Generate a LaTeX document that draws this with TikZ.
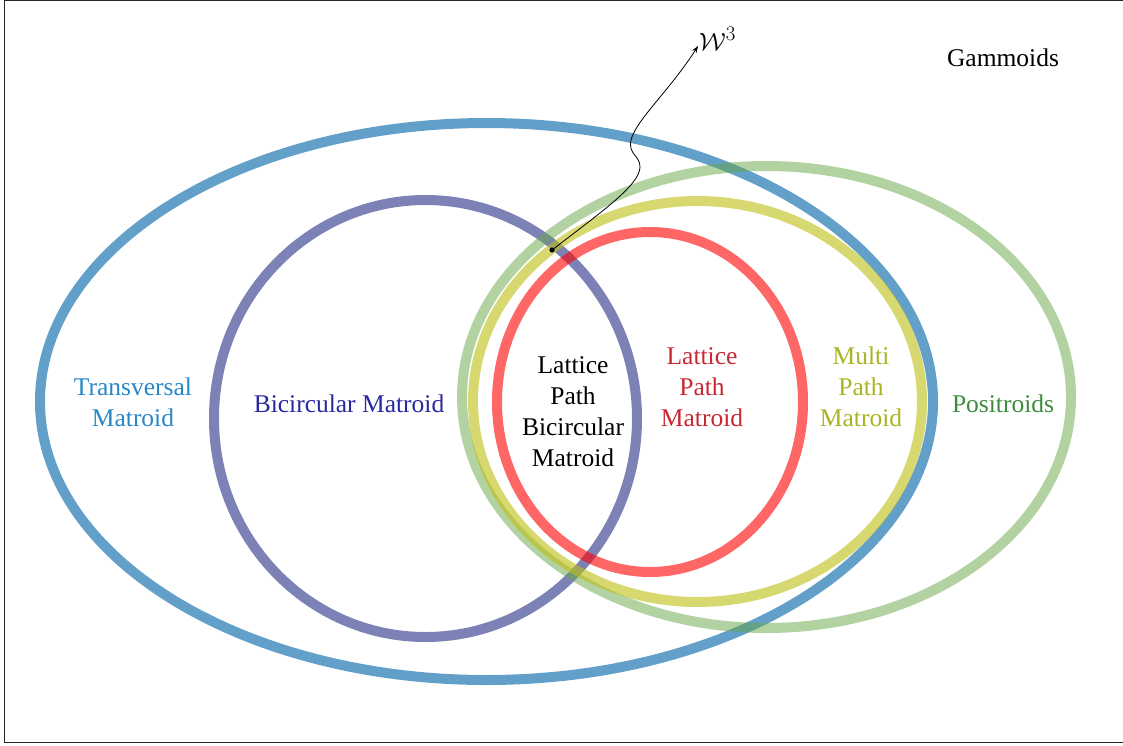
\documentclass[tikz,border=0pt]{standalone}
\usepackage{fontspec}
\setmainfont{Liberation Serif}
\usetikzlibrary{arrows.meta}
\definecolor{cTr}{RGB}{31,119,180}
\definecolor{cBi}{RGB}{26,35,126}
\definecolor{cPo}{RGB}{101,165,69}
\definecolor{cMu}{RGB}{190,190,17}
\definecolor{cLa}{RGB}{255,0,0}
\definecolor{tTr}{RGB}{40,135,200}
\definecolor{tBi}{RGB}{40,40,160}
\definecolor{tPo}{RGB}{60,140,60}
\definecolor{tLa}{RGB}{200,40,50}
\definecolor{tMu}{RGB}{170,180,35}
\begin{document}
\begin{tikzpicture}[x=1pt,y=-1pt,
  ring/.style={line width=10pt},
  lab/.style={font=\fontsize{25.5}{31}\selectfont, align=center, inner sep=0pt}]
\useasboundingbox (0,0) rectangle (1123,745);
\draw[line width=1pt, black!85] (4.5,0.5) rectangle (1123.5,742.5);
% rings
\draw[ring, cTr, draw opacity=0.7] (486.5,401.5) ellipse [x radius=446.5, y radius=278.5];
\draw[ring, cBi, draw opacity=0.57] (425.5,418.5) ellipse [x radius=211.5, y radius=218.5];
\draw[ring, cPo, draw opacity=0.5] (766.5,397) ellipse [x radius=304.5, y radius=231];
\draw[ring, cMu, draw opacity=0.6] (697.5,401.5) ellipse [x radius=224.5, y radius=200.5];
\draw[ring, cLa, draw opacity=0.6] (650,402) ellipse [x radius=153, y radius=170];
% labels
\node[lab, text=tTr] (tr) at (133,402) {Transversal\\Matroid};
\node[lab, text=tBi] (bi) at (349,404) {Bicircular Matroid};
\node[lab, text=black] (lpb) at (573,412) {Lattice\\Path\\Bicircular\\Matroid};
\node[lab, text=tLa] (lp) at (702,387) {Lattice\\Path\\Matroid};
\node[lab, text=tMu] (mp) at (861,387) {Multi\\Path\\Matroid};
\node[lab, text=tPo] (po) at (1003,404) {Positroids};
\node[lab, text=black] (ga) at (1003,58) {Gammoids};
\node[inner sep=0pt, anchor=base west, font=\fontsize{31}{36}\selectfont] (W) at (699,50) {$\mathcal{W}^3$};
% arrow
\coordinate (p) at (552,250);
\coordinate (wtip) at (698,46);
\fill (p) circle (2.6pt);
\draw[line width=0.8pt, -{Stealth[length=7pt,width=5pt]}] (p)
  .. controls (600,213) and (640,185) .. (640,167)
  .. controls (640,155) and (628,155) .. (631,140)
  .. controls (636,120) and (670,90) .. (wtip);
\end{tikzpicture}
\end{document}
